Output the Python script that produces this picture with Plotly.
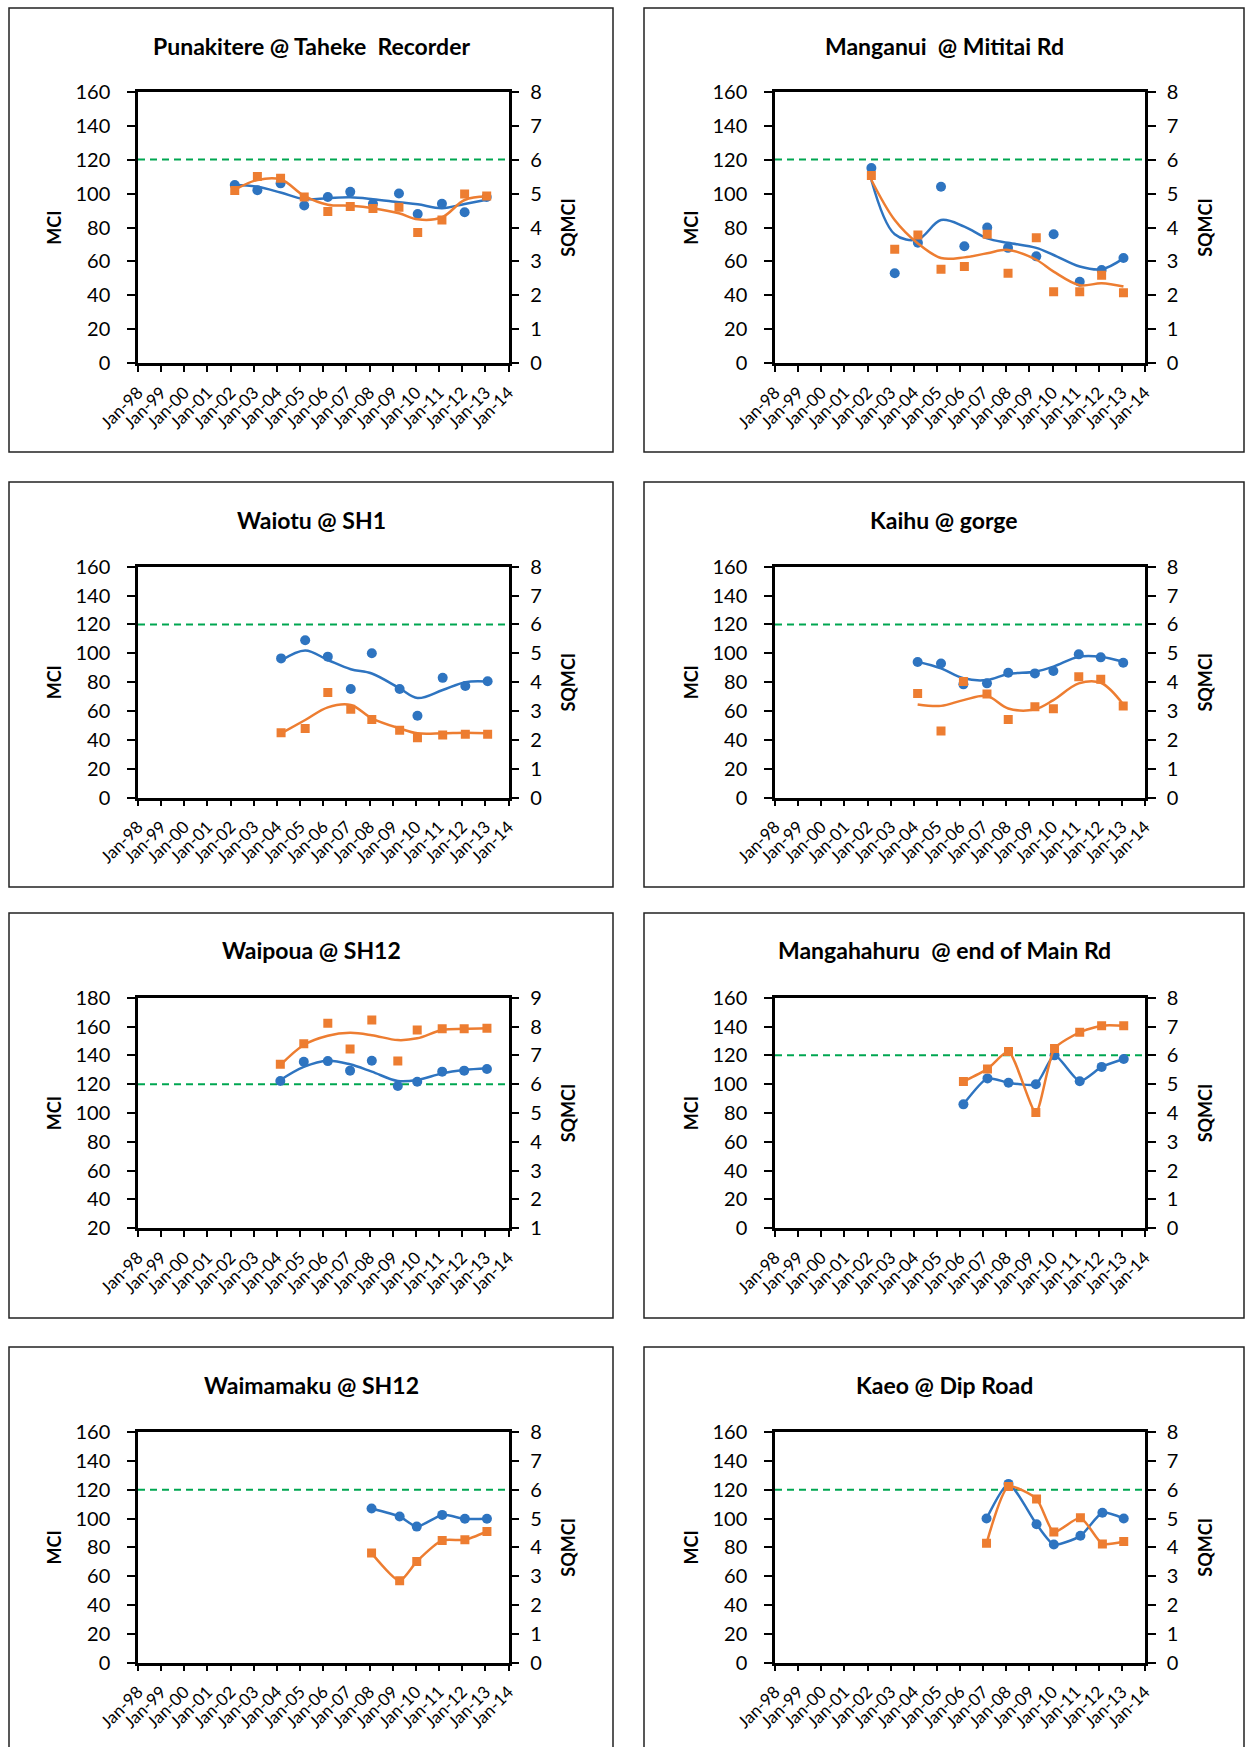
import plotly.graph_objects as go

# ---------------- data ----------------
GUIDELINE_MCI = 120

p1_title = "Punakitere @ Taheke  Recorder"
p1_dates = ["2002-03-07", "2003-02-27", "2004-02-28", "2005-03-07", "2006-03-14", "2007-03-03",
            "2008-02-24", "2009-04-09", "2010-01-30", "2011-02-16", "2012-02-09", "2013-01-22"]
p1_mci = [105, 102, 106, 93, 98, 101, 94, 100, 88, 94, 89, 98]
p1_sqmci = [5.09, 5.5, 5.45, 4.9, 4.47, 4.62, 4.56, 4.6, 3.85, 4.22, 4.99, 4.93]
p1_mci_trend = [105, 104, 100.6, 96.7, 97.3, 97.8, 96.7, 94.9, 93.7, 91.4, 93.9, 96.3]
p1_sqmci_trend = [5.11, 5.4, 5.42, 4.93, 4.67, 4.64, 4.57, 4.42, 4.24, 4.3, 4.81, 4.91]

p2_title = "Manganui  @ Mititai Rd"
p2_dates = ["2002-03-03", "2003-03-07", "2004-03-07", "2005-03-07", "2006-03-11", "2007-03-07",
            "2008-01-30", "2009-04-20", "2010-01-19", "2011-03-07", "2012-02-16", "2013-01-26"]
p2_mci = [115, 53, 71, 104, 69, 80, 68, 63, 76, 48, 55, 62]
p2_sqmci = [5.53, 3.36, 3.78, 2.77, 2.85, 3.8, 2.65, 3.7, 2.11, 2.11, 2.59, 2.08]
p2_mci_trend = [108, 76, 73, 84.4, 80.5, 73.6, 71, 68, 63.8, 57, 55.4, 61.8]
p2_sqmci_trend = [5.4, 4.22, 3.53, 3.1, 3.12, 3.24, 3.34, 3.05, 2.7, 2.3, 2.36, 2.26]

p3_title = "Waiotu @ SH1"
p3_dates = ["2004-03-07", "2005-03-22", "2006-03-14", "2007-03-11", "2008-02-06",
            "2009-04-20", "2010-01-26", "2011-02-28", "2012-02-20", "2013-02-06"]
p3_mci = [96.5, 109, 97.7, 75.3, 100, 75.3, 56.8, 83, 77.4, 80.6]
p3_sqmci = [2.25, 2.4, 3.64, 3.06, 2.71, 2.34, 2.08, 2.17, 2.2, 2.2]
p3_mci_trend = [95, 102, 95.4, 89, 86, 75.7, 69, 74.6, 80, 80.4]
p3_sqmci_trend = [2.23, 2.69, 3.13, 3.21, 2.75, 2.4, 2.23, 2.23, 2.25, 2.23]

p4_title = "Kaihu @ gorge"
p4_dates = ["2004-03-03", "2005-03-07", "2006-02-24", "2007-03-03", "2008-02-02",
            "2009-03-29", "2010-01-15", "2011-02-20", "2012-02-02", "2013-01-22"]
p4_mci = [94, 93, 78.5, 79.2, 86.6, 86.1, 87.8, 99.3, 97.2, 93.5]
p4_sqmci = [3.61, 2.31, 4.02, 3.59, 2.71, 3.15, 3.08, 4.19, 4.1, 3.18]
p4_mci_trend = [94.2, 89.6, 82.7, 81.5, 85.7, 87.3, 90.8, 97.7, 97.7, 94.2]
p4_sqmci_trend = [3.23, 3.18, 3.38, 3.52, 3.09, 3.06, 3.38, 3.96, 3.98, 3.23]

p5_title = "Waipoua @ SH12"
p5_dates = ["2004-02-24", "2005-02-28", "2006-03-14", "2007-02-28", "2008-02-06",
            "2009-03-22", "2010-01-22", "2011-02-20", "2012-02-02", "2013-01-26"]
p5_mci = [122.2, 135.6, 136, 129.4, 136.3, 118.7, 121.7, 128.7, 129.4, 130.5]
p5_sqmci = [6.69, 7.4, 8.11, 7.22, 8.23, 6.8, 7.88, 7.92, 7.92, 7.94]
p5_mci_trend = [122.9, 132, 136.3, 133.8, 128.7, 122.2, 122.9, 127.5, 129.8, 131]
p5_sqmci_trend = [6.66, 7.36, 7.68, 7.78, 7.7, 7.53, 7.59, 7.88, 7.92, 7.94]

p6_title = "Mangahahuru  @ end of Main Rd"
p6_dates = ["2006-02-24", "2007-03-11", "2008-02-06", "2009-04-13",
            "2010-02-02", "2011-03-07", "2012-02-16", "2013-01-30"]
p6_mci = [86, 104, 101, 100, 120, 102, 112, 117.5]
p6_sqmci = [5.09, 5.53, 6.13, 4.02, 6.24, 6.8, 7.03, 7.03]

p7_title = "Waimamaku @ SH12"
p7_dates = ["2008-02-02", "2009-04-20", "2010-01-15", "2011-02-20", "2012-02-13", "2013-01-26"]
p7_mci = [107, 101.4, 94.4, 102.5, 99.8, 99.8]
p7_sqmci = [3.8, 2.84, 3.51, 4.24, 4.26, 4.55]

p8_title = "Kaeo @ Dip Road"
p8_dates = ["2007-02-24", "2008-02-06", "2009-04-24", "2010-01-22", "2011-03-18", "2012-02-28", "2013-01-30"]
p8_mci = [100, 124, 96, 82, 88, 104, 100]
p8_sqmci = [4.14, 6.11, 5.68, 4.53, 5.03, 4.12, 4.2]

mci_range_std = [0, 160]
sq_range_std = [0, 8]
mci_range_waipoua = [20, 180]
sq_range_waipoua = [1, 9]
x_range = ["1998-01-01", "2014-01-01"]

# ---------------- styling / layout ----------------
W, H = 1250, 1747
BLUE = "#2E74C0"
ORANGE = "#ED7D31"
GREEN = "#00A651"
FONT = "Lato"

panels = [
    dict(title=p1_title, d=p1_dates, m=p1_mci, s=p1_sqmci, mt=p1_mci_trend, st=p1_sqmci_trend,
         yr=mci_range_std, y2r=sq_range_std),
    dict(title=p2_title, d=p2_dates, m=p2_mci, s=p2_sqmci, mt=p2_mci_trend, st=p2_sqmci_trend,
         yr=mci_range_std, y2r=sq_range_std),
    dict(title=p3_title, d=p3_dates, m=p3_mci, s=p3_sqmci, mt=p3_mci_trend, st=p3_sqmci_trend,
         yr=mci_range_std, y2r=sq_range_std),
    dict(title=p4_title, d=p4_dates, m=p4_mci, s=p4_sqmci, mt=p4_mci_trend, st=p4_sqmci_trend,
         yr=mci_range_std, y2r=sq_range_std),
    dict(title=p5_title, d=p5_dates, m=p5_mci, s=p5_sqmci, mt=p5_mci_trend, st=p5_sqmci_trend,
         yr=mci_range_waipoua, y2r=sq_range_waipoua),
    dict(title=p6_title, d=p6_dates, m=p6_mci, s=p6_sqmci, mt=None, st=None,
         yr=mci_range_std, y2r=sq_range_std),
    dict(title=p7_title, d=p7_dates, m=p7_mci, s=p7_sqmci, mt=None, st=None,
         yr=mci_range_std, y2r=sq_range_std),
    dict(title=p8_title, d=p8_dates, m=p8_mci, s=p8_sqmci, mt=None, st=None,
         yr=mci_range_std, y2r=sq_range_std),
]

# plot-area pixel boxes
col_x = [(138, 508.5), (775, 1145)]
row_y = [(91.7, 363.3), (566.7, 797.7), (997.7, 1228.3), (1432, 1662.7)]
# panel frame boxes
frames_x = [(9, 613), (644, 1244)]
frames_y = [(8, 452), (482, 887), (913, 1318), (1347, 1760)]
title_y = [46, 520, 950, 1385]

fig = go.Figure()
layout = dict(width=W, height=H, margin=dict(l=0, r=0, t=0, b=0),
              paper_bgcolor="white", plot_bgcolor="white", showlegend=False,
              font=dict(family=FONT, color="black"))
shapes = []
annotations = []

for k, p in enumerate(panels):
    r, c = divmod(k, 2)
    xid = k + 1
    yl = 2 * k + 1
    yr = 2 * k + 2
    xs = "x" if xid == 1 else f"x{xid}"
    yls = "y" if yl == 1 else f"y{yl}"
    yrs = f"y{yr}"
    xkey = "xaxis" if xid == 1 else f"xaxis{xid}"
    ylkey = "yaxis" if yl == 1 else f"yaxis{yl}"
    yrkey = f"yaxis{yr}"

    x0, x1 = col_x[c]
    t, b = row_y[r]
    xdom = [x0 / W, x1 / W]
    ydom = [1 - b / H, 1 - t / H]

    layout[xkey] = dict(domain=xdom, anchor=yls, type="date", range=x_range,
                        dtick="M12", tick0="1998-01-01", tickformat="%b-%y", tickangle=-45,
                        showline=True, mirror=True, linecolor="black", linewidth=2.5,
                        ticks="outside", ticklen=6, tickwidth=2, tickcolor="black",
                        ticklabelstandoff=4,
                        tickfont=dict(size=17, family=FONT, color="black"),
                        showgrid=False, zeroline=False, automargin=False)
    layout[ylkey] = dict(domain=ydom, anchor=xs, range=p["yr"], dtick=20,
                         showline=True, linecolor="black", linewidth=2.5,
                         ticks="outside", ticklen=8, tickwidth=2, tickcolor="black",
                         ticklabelstandoff=13,
                         tickfont=dict(size=20, family=FONT, color="black"),
                         title=dict(text="<b>MCI</b>", font=dict(size=18, family=FONT), standoff=10),
                         showgrid=False, zeroline=False, automargin=False)
    layout[yrkey] = dict(overlaying=yls, side="right", anchor=xs, range=p["y2r"], dtick=1,
                         showline=True, linecolor="black", linewidth=2.5,
                         ticks="outside", ticklen=8, tickwidth=2, tickcolor="black",
                         ticklabelstandoff=7,
                         tickfont=dict(size=20, family=FONT, color="black"),
                         title=dict(text="<b>SQMCI</b>", font=dict(size=18, family=FONT), standoff=22),
                         showgrid=False, zeroline=False, automargin=False)

    # guideline
    shapes.append(dict(type="line", xref=f"{xs} domain", yref=yls, x0=0, x1=1,
                       y0=GUIDELINE_MCI, y1=GUIDELINE_MCI,
                       line=dict(color=GREEN, width=2, dash="7px,5px"), layer="below"))

    trend = p["mt"] is not None
    if trend:
        fig.add_trace(go.Scatter(x=p["d"], y=p["m"], mode="markers", xaxis=xs, yaxis=yls,
                                 marker=dict(symbol="circle", size=10, color=BLUE)))
        fig.add_trace(go.Scatter(x=p["d"], y=p["s"], mode="markers", xaxis=xs, yaxis=yrs,
                                 marker=dict(symbol="square", size=9, color=ORANGE)))
        fig.add_trace(go.Scatter(x=p["d"], y=p["mt"], mode="lines", xaxis=xs, yaxis=yls,
                                 line=dict(color=BLUE, width=2.5, shape="spline", smoothing=1.0)))
        fig.add_trace(go.Scatter(x=p["d"], y=p["st"], mode="lines", xaxis=xs, yaxis=yrs,
                                 line=dict(color=ORANGE, width=2.5, shape="spline", smoothing=1.0)))
    else:
        fig.add_trace(go.Scatter(x=p["d"], y=p["s"], mode="lines+markers", xaxis=xs, yaxis=yrs,
                                 line=dict(color=ORANGE, width=2.5, shape="spline", smoothing=0.6),
                                 marker=dict(symbol="square", size=9, color=ORANGE)))
        fig.add_trace(go.Scatter(x=p["d"], y=p["m"], mode="lines+markers", xaxis=xs, yaxis=yls,
                                 line=dict(color=BLUE, width=2.5, shape="spline", smoothing=0.6),
                                 marker=dict(symbol="circle", size=10, color=BLUE)))

    # frame
    fx0, fx1 = frames_x[c]
    fy0, fy1 = frames_y[r]
    shapes.append(dict(type="rect", xref="paper", yref="paper",
                       x0=fx0 / W, x1=fx1 / W, y0=1 - fy1 / H, y1=1 - fy0 / H,
                       line=dict(color="#222222", width=1.5), layer="below"))
    # title
    annotations.append(dict(text=f"<b>{p['title']}</b>", xref="paper", yref="paper",
                            x=(fx0 + fx1) / 2 / W, y=1 - title_y[r] / H,
                            xanchor="center", yanchor="middle", showarrow=False,
                            font=dict(size=23, family=FONT, color="black")))

layout["shapes"] = shapes
layout["annotations"] = annotations
fig.update_layout(**layout)
fig.write_html("out.html")
